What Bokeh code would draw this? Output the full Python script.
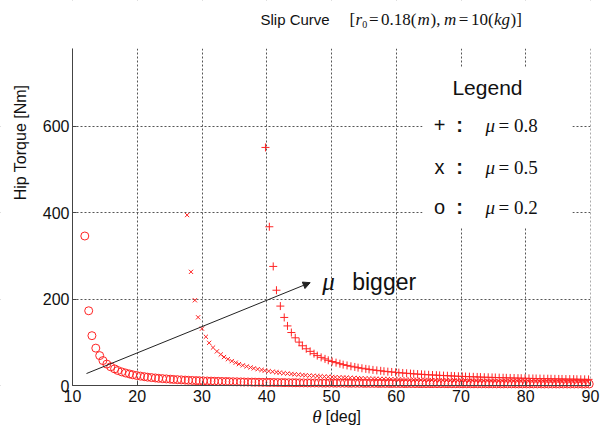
import math
from bokeh.plotting import figure
from bokeh.models import Label, Arrow, NormalHead, BoxAnnotation, FixedTicker, Range1d
from bokeh.embed import file_html
from bokeh.resources import INLINE

# ---- data ----
x_ticks = [10, 20, 30, 40, 50, 60, 70, 80, 90]
y_ticks = [0, 200, 400, 600]
x_lim = (10, 90)
y_lim = (0, 780)

# mu = 0.2 (circles)
theta_mu02 = [11.9,12.5,13.0,13.6,14.2,14.7,15.3,15.9,16.5,17.0,
              17.6,18.2,18.8,19.3,19.9,20.5,21.1,21.6,22.2,22.8,
              23.3,23.9,24.5,25.1,25.6,26.2,26.8,27.4,27.9,28.5,
              29.1,29.6,30.2,30.8,31.4,31.9,32.5,33.1,33.7,34.2,
              34.8,35.4,36.0,36.5,37.1,37.7,38.2,38.8,39.4,40.0,
              40.5,41.1,41.7,42.3,42.8,43.4,44.0,44.5,45.1,45.7,
              46.3,46.8,47.4,48.0,48.6,49.1,49.7,50.3,50.8,51.4,
              52.0,52.6,53.1,53.7,54.3,54.9,55.4,56.0,56.6,57.2,
              57.7,58.3,58.9,59.4,60.0,60.6,61.2,61.7,62.3,62.9,
              63.5,64.0,64.6,65.2,65.7,66.3,66.9,67.5,68.0,68.6,
              69.2,69.8,70.3,70.9,71.5,72.0,72.6,73.2,73.8,74.3,
              74.9,75.5,76.1,76.6,77.2,77.8,78.4,78.9,79.5,80.1,
              80.6,81.2,81.8,82.4,82.9,83.5,84.1,84.7,85.2,85.8,
              86.4,86.9,87.5,88.1,88.7,89.2,89.8]
torque_mu02 = [346.0,173.0,115.3,86.5,69.2,57.7,49.5,43.3,38.5,34.7,
               31.5,28.9,26.7,24.8,23.2,21.7,20.4,19.3,18.3,17.4,
               16.6,15.9,15.2,14.6,14.0,13.5,13.0,12.5,12.1,11.7,
               11.3,11.0,10.7,10.4,10.1,9.8,9.6,9.3,9.1,8.9,
               8.7,8.5,8.3,8.1,8.0,7.8,7.6,7.5,7.3,7.2,
               7.1,7.0,6.8,6.7,6.6,6.5,6.4,6.3,6.2,6.1,
               6.0,6.0,5.9,5.8,5.7,5.6,5.6,5.5,5.4,5.4,
               5.3,5.2,5.2,5.1,5.1,5.0,5.0,4.9,4.9,4.8,
               4.8,4.7,4.7,4.6,4.6,4.6,4.5,4.5,4.5,4.4,
               4.4,4.3,4.3,4.3,4.3,4.2,4.2,4.2,4.1,4.1,
               4.1,4.1,4.0,4.0,4.0,4.0,3.9,3.9,3.9,3.9,
               3.9,3.8,3.8,3.8,3.8,3.8,3.8,3.7,3.7,3.7,
               3.7,3.7,3.7,3.7,3.6,3.6,3.6,3.6,3.6,3.6,
               3.6,3.6,3.6,3.6,3.5,3.5,3.5]

# mu = 0.5 (x)
theta_mu05 = [27.7,28.3,28.9,29.4,30.0,30.6,31.1,31.7,32.3,32.9,
              33.4,34.0,34.6,35.2,35.7,36.3,36.9,37.5,38.0,38.6,
              39.2,39.7,40.3,40.9,41.5,42.0,42.6,43.2,43.8,44.3,
              44.9,45.5,46.0,46.6,47.2,47.8,48.3,48.9,49.5,50.1,
              50.6,51.2,51.8,52.3,52.9,53.5,54.1,54.6,55.2,55.8,
              56.4,56.9,57.5,58.1,58.7,59.2,59.8,60.4,60.9,61.5,
              62.1,62.7,63.2,63.8,64.4,65.0,65.5,66.1,66.7,67.2,
              67.8,68.4,69.0,69.5,70.1,70.7,71.3,71.8,72.4,73.0,
              73.5,74.1,74.7,75.3,75.8,76.4,77.0,77.6,78.1,78.7,
              79.3,79.9,80.4,81.0,81.6,82.1,82.7,83.3,83.9,84.4,
              85.0,85.6,86.2,86.7,87.3,87.9,88.4,89.0,89.6]
torque_mu05 = [394.5,263.0,197.3,157.8,131.6,112.8,98.7,87.8,79.0,71.9,
               65.9,60.9,56.5,52.8,49.5,46.6,44.1,41.8,39.7,37.8,
               36.1,34.6,33.2,31.9,30.7,29.6,28.5,27.6,26.7,25.9,
               25.1,24.3,23.7,23.0,22.4,21.8,21.3,20.7,20.3,19.8,
               19.3,18.9,18.5,18.1,17.8,17.4,17.1,16.8,16.5,16.2,
               15.9,15.6,15.3,15.1,14.9,14.6,14.4,14.2,14.0,13.8,
               13.6,13.4,13.2,13.0,12.9,12.7,12.5,12.4,12.2,12.1,
               12.0,11.8,11.7,11.6,11.5,11.3,11.2,11.1,11.0,10.9,
               10.8,10.7,10.6,10.5,10.4,10.3,10.2,10.2,10.1,10.0,
               9.9,9.8,9.8,9.7,9.6,9.6,9.5,9.4,9.4,9.3,
               9.3,9.2,9.1,9.1,9.0,9.0,8.9,8.9,8.9]

# mu = 0.8 (+)
theta_mu08 = [39.8,40.4,41.0,41.5,42.1,42.7,43.2,43.8,44.4,45.0,
              45.5,46.1,46.7,47.3,47.8,48.4,49.0,49.5,50.1,50.7,
              51.3,51.8,52.4,53.0,53.6,54.1,54.7,55.3,55.8,56.4,
              57.0,57.6,58.1,58.7,59.3,59.9,60.4,61.0,61.6,62.2,
              62.7,63.3,63.9,64.4,65.0,65.6,66.2,66.7,67.3,67.9,
              68.5,69.0,69.6,70.2,70.7,71.3,71.9,72.5,73.0,73.6,
              74.2,74.8,75.3,75.9,76.5,77.0,77.6,78.2,78.8,79.3,
              79.9,80.5,81.1,81.6,82.2,82.8,83.4,83.9,84.5,85.1,
              85.6,86.2,86.8,87.4,87.9,88.5,89.1,89.7]
torque_mu08 = [551.0,367.4,275.6,220.5,183.8,157.5,137.9,122.6,110.4,100.4,
               92.0,85.0,79.0,73.7,69.2,65.1,61.6,58.3,55.5,52.9,
               50.5,48.3,46.4,44.5,42.9,41.3,39.9,38.5,37.3,36.1,
               35.0,34.0,33.0,32.1,31.3,30.5,29.7,29.0,28.3,27.6,
               27.0,26.4,25.9,25.3,24.8,24.3,23.9,23.4,23.0,22.6,
               22.2,21.8,21.4,21.1,20.7,20.4,20.1,19.8,19.5,19.2,
               19.0,18.7,18.5,18.2,18.0,17.7,17.5,17.3,17.1,16.9,
               16.7,16.5,16.3,16.2,16.0,15.8,15.7,15.5,15.4,15.2,
               15.1,14.9,14.8,14.7,14.5,14.4,14.3,14.2]

SANS = "Liberation Sans"
SERIF = "Liberation Serif"
RED = "#ff2424"
INK = "#111111"

# canvas 608x426; data area occupies canvas px 72..590 (x) and 48..385 (y)
W, H = 608, 426
FL, FR, FT, FB = 72, 590, 48, 385
sx = (FR - FL) / (x_lim[1] - x_lim[0])
sy = (FB - FT) / (y_lim[1] - y_lim[0])
xr = Range1d(x_lim[0] - FL / sx, x_lim[1] + (W - FR) / sx)
yr = Range1d(y_lim[0] - (H - FB) / sy, y_lim[1] + FT / sy)

p = figure(width=W, height=H, x_range=xr, y_range=yr,
           output_backend="svg", toolbar_location=None, title=None,
           min_border=0)
p.outline_line_color = None
p.background_fill_color = "white"
p.border_fill_color = "white"

p.xaxis.ticker = FixedTicker(ticks=x_ticks)
p.yaxis.ticker = FixedTicker(ticks=y_ticks)
p.xaxis.fixed_location = y_lim[0]
p.yaxis.fixed_location = x_lim[0]
p.xaxis.bounds = x_lim
p.yaxis.bounds = y_lim
for ax in (p.xaxis, p.yaxis):
    ax.axis_line_color = "#444444"
    ax.major_tick_in = 4
    ax.major_tick_out = 0
    ax.major_tick_line_color = "#444444"
    ax.minor_tick_line_color = None
    ax.major_label_text_font = SANS
    ax.major_label_text_font_size = "16px"
    ax.major_label_text_color = INK
p.xaxis.major_label_standoff = 4
p.yaxis.major_label_standoff = 3

for g in (p.xgrid, p.ygrid):
    g.grid_line_color = "#555555"
    g.grid_line_dash = "2 2"
    g.grid_line_width = 1

# hide grid outside the data area
for kw in (dict(left=xr.start, right=x_lim[0], bottom=yr.start, top=yr.end),
           dict(left=x_lim[1], right=xr.end, bottom=yr.start, top=yr.end),
           dict(left=xr.start, right=xr.end, bottom=y_lim[1], top=yr.end),
           dict(left=xr.start, right=xr.end, bottom=yr.start, top=y_lim[0])):
    p.add_layout(BoxAnnotation(fill_color="white", fill_alpha=1.0, line_color=None,
                               level="underlay", **kw))

# white legend box
p.add_layout(BoxAnnotation(left=64.05, right=87.2, bottom=365.7, top=736,
                           fill_color="white", fill_alpha=1.0, line_color=None))

p.scatter(theta_mu02, torque_mu02, marker="circle", size=8, fill_color=None,
          line_color=RED, line_width=1)
p.scatter(theta_mu05, torque_mu05, marker="x", size=6, line_color=RED, line_width=1)
p.scatter(theta_mu08, torque_mu08, marker="cross", size=8, line_color=RED, line_width=1)

p.add_layout(Arrow(end=NormalHead(size=7, fill_color="#222222", line_color="#222222"),
                   x_start=12.16, y_start=27.7, x_end=46.7, y_end=238,
                   line_color="#222222", line_width=1))


def lab(x, y, text, size, font=SANS, style="normal", align="left", angle=0.0,
        baseline="middle", color=INK):
    p.add_layout(Label(x=x, y=y, text=text, text_font=font, text_font_size=f"{size}px",
                       text_font_style=style, text_align=align, text_baseline=baseline,
                       angle=angle, text_color=color))


# title
ty = 847.1
lab(39.03, ty, "Slip Curve", 15)
lab(52.78, ty, "[", 17, SERIF)
lab(53.71, ty, "r", 17, SERIF, "italic")
lab(54.73, 835.6, "0", 10, SERIF)
lab(55.79, ty, "=", 17, SERIF)
lab(57.66, ty, "0.18(", 17, SERIF)
lab(63.28, ty, "m", 17, SERIF, "italic")
lab(65.29, ty, "),", 17, SERIF)
lab(67.37, ty, "m", 17, SERIF, "italic")
lab(69.66, ty, "=", 17, SERIF)
lab(71.53, ty, "10(", 17, SERIF)
lab(75.10, ty, "kg", 17, SERIF, "italic")
lab(77.65, ty, ")]", 17, SERIF)

# legend text
lab(74.09, 689.7, "Legend", 21, align="center")
rows = [(601.8, "+", "0.8"), (504.6, "x", "0.5"), (412.0, "o", "0.2")]
for ry, sym, mu in rows:
    lab(66.68, ry, sym, 20, align="center")
    lab(69.77, ry, ":", 20, style="bold", align="center")
    lab(73.78, ry, "\u03bc", 19, SERIF, "italic")
    lab(75.79, ry, "= " + mu, 19, SERIF)

# arrow text
lab(48.56, 240.7, "\u03bc", 25, SERIF, "italic")
lab(53.2, 240.7, "bigger", 23)

# axis labels
lab(1.97, 562.4, "Hip Torque [Nm]", 16, align="center", angle=math.pi / 2)
lab(47.02, -71.75, "\u03b8", 19, SERIF, "italic")
lab(49.07, -71.75, "[deg]", 16)

open("out.html", "w").write(file_html(p, INLINE))
